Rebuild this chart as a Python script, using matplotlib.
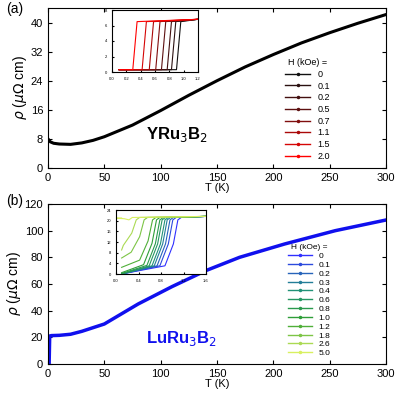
import numpy as np
import matplotlib.pyplot as plt
from matplotlib.colors import LinearSegmentedColormap

# main curves
T_y = [0, 2, 5, 10, 20, 30, 40, 50, 75, 100, 125, 150, 175, 200, 225, 250, 275, 300]
rho_y = [8.0, 7.2, 6.8, 6.6, 6.5, 6.9, 7.6, 8.6, 11.8, 15.8, 20.0, 24.0, 27.8, 31.2, 34.4, 37.2, 39.8, 42.2]
T_l = [0, 1, 1.5, 3, 10, 20, 30, 50, 80, 110, 140, 170, 210, 255, 300]
rho_l = [0, 0, 21, 21.3, 21.5, 22.3, 24.5, 30, 45, 58, 70, 80, 90, 100, 108]

# insets
H_y = ["0", "0.1", "0.2", "0.5", "0.7", "1.1", "1.5", "2.0"]
Tc_y = [0.93, 0.86, 0.80, 0.72, 0.64, 0.55, 0.45, 0.32]
H_l = ["0", "0.1", "0.2", "0.3", "0.4", "0.6", "0.8", "1.0", "1.2", "1.8", "2.6", "5.0"]
Tc_l = [1.12, 1.03, 0.98, 0.93, 0.89, 0.84, 0.80, 0.74, 0.67, 0.52, 0.38, 0.25]
base_l = [0, 0, 0, 0, 0, 0, 0.2, 0.5, 2.5, 6, 9, 21]

reds = LinearSegmentedColormap.from_list("r", ["#111111", "#6a1010", "#ff0000"])(np.linspace(0, 1, len(H_y)))
greens = LinearSegmentedColormap.from_list("g", ["#3030ff", "#209080", "#30a030", "#d8f060"])(np.linspace(0, 1, len(H_l)))

plt.rcParams['font.family'] = 'Liberation Sans'
fig = plt.figure(figsize=(4, 4), dpi=100)

def style(ax):
    ax.tick_params(direction='in', top=True, right=True, labelsize=8, length=3)
    ax.set_xlim(0, 300)
    ax.set_xticks(range(0, 301, 50))
    ax.set_xlabel("T (K)", fontsize=8, labelpad=0)
    ax.set_ylabel(r"$\rho$ ($\mu\Omega$ cm)", fontsize=10, labelpad=1)

ax1 = fig.add_axes([0.12, 0.58, 0.845, 0.40])
ax1.plot(T_y, rho_y, color='black', lw=2.2)
style(ax1)
ax1.set_ylim(0, 44)
ax1.set_yticks(range(0, 41, 8))
ax1.text(0.29, 0.18, r"YRu$_3$B$_2$", transform=ax1.transAxes, fontsize=12, fontweight='bold')
fig.text(0.015, 0.995, "(a)", fontsize=10, va='top')
for h, c in zip(H_y, reds):
    ax1.plot([], [], color=c, lw=1, marker='.', ms=3, label=h)
ax1.legend(loc='upper right', bbox_to_anchor=(0.85, 0.72), frameon=False, fontsize=6.5, title="H (kOe) =",
           title_fontsize=6.5, handlelength=2.8, labelspacing=0.3, borderaxespad=0.2)

in1 = fig.add_axes([0.28, 0.82, 0.215, 0.155])
for tc, c in zip(Tc_y, reds):
    in1.plot([0.1, tc - 0.03, tc + 0.03, 1.2], [0.3, 0.3, 6.5, 6.8], color=c, lw=0.8)
in1.set_xlim(0, 1.2); in1.set_ylim(0, 8)
in1.set_xticks(np.arange(0, 1.21, 0.2)); in1.set_yticks([0, 2, 4, 6, 8])
in1.tick_params(direction='in', labelsize=3, length=1.5)

ax2 = fig.add_axes([0.12, 0.09, 0.845, 0.40])
ax2.plot(T_l, rho_l, color='#1010ee', lw=2.5)
style(ax2)
ax2.set_ylim(0, 120)
ax2.set_yticks(range(0, 121, 20))
ax2.text(0.29, 0.13, r"LuRu$_3$B$_2$", transform=ax2.transAxes, fontsize=12, fontweight='bold', color='#1010ee')
fig.text(0.015, 0.515, "(b)", fontsize=10, va='top')
for h, c in zip(H_l, greens):
    ax2.plot([], [], color=c, lw=1, marker='.', ms=3, label=h)
ax2.legend(loc='upper right', bbox_to_anchor=(0.85, 0.78), frameon=False, fontsize=6, title="H (kOe) =",
           title_fontsize=6, handlelength=2.8, labelspacing=0.12, borderaxespad=0.2)

in2 = fig.add_axes([0.29, 0.315, 0.225, 0.16])
for tc, b, c in zip(Tc_l, base_l, greens):
    in2.plot([0.1, tc - 0.25, tc - 0.1, tc - 0.02, tc + 0.04, 1.6],
             [b, b + (20.5 - b) * 0.15, b + (20.5 - b) * 0.55, 20.3, 21.2, 21.6], color=c, lw=0.8)
in2.set_xlim(0, 1.6); in2.set_ylim(0, 24)
in2.set_xticks(np.arange(0, 1.61, 0.4)); in2.set_yticks(range(0, 25, 4))
in2.tick_params(direction='in', labelsize=3, length=1.5)

fig.savefig("out.png", dpi=100)
